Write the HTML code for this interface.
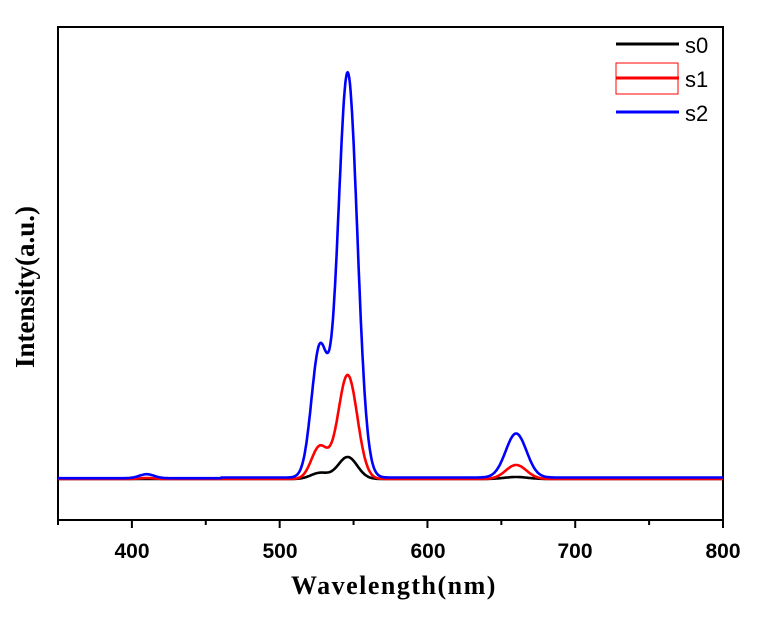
<!DOCTYPE html>
<html><head><meta charset="utf-8"><style>
html,body{margin:0;padding:0;background:#fff;}
svg{display:block;}
text{font-family:"Liberation Serif",serif;font-weight:bold;fill:#000;}
</style></head><body>
<svg id="s" width="763" height="620" xmlns="http://www.w3.org/2000/svg">
<rect x="58" y="27" width="665" height="493" fill="none" stroke="#000" stroke-width="2"/>
<g stroke="#000" stroke-width="2" id="ticks"></g>
<g font-size="21" text-anchor="middle">
<text x="132" y="558" style="font-family:'Liberation Sans',sans-serif">400</text>
<text x="280" y="558" style="font-family:'Liberation Sans',sans-serif">500</text>
<text x="428" y="558" style="font-family:'Liberation Sans',sans-serif">600</text>
<text x="575" y="558" style="font-family:'Liberation Sans',sans-serif">700</text>
<text x="723" y="558" style="font-family:'Liberation Sans',sans-serif">800</text>
</g>
<text x="394" y="594" font-size="26" text-anchor="middle" letter-spacing="1.5">Wavelength(nm)</text>
<text transform="translate(34,287) rotate(-90)" font-size="27" text-anchor="middle">Intensity(a.u.)</text>
<g id="curves" fill="none" stroke-width="2.6" stroke-linejoin="round"></g>
<line x1="616" y1="44" x2="679" y2="44" stroke="#000" stroke-width="3"/>
<rect x="616" y="63" width="62" height="31" fill="none" stroke="#f00" stroke-width="1"/>
<line x1="616" y1="78" x2="679" y2="78" stroke="#f00" stroke-width="3"/>
<line x1="616" y1="112" x2="679" y2="112" stroke="#00f" stroke-width="3"/>
<g font-size="22">
<text x="685" y="53" style="font-family:'Liberation Sans',sans-serif;font-weight:normal">s0</text>
<text x="685" y="87" style="font-family:'Liberation Sans',sans-serif;font-weight:normal">s1</text>
<text x="685" y="121" style="font-family:'Liberation Sans',sans-serif;font-weight:normal">s2</text>
</g>
</svg>
<script>
function X(w){return 58+(w-350)*665/450;}
var t=document.getElementById('ticks'),h='';
for(var w=350;w<=800;w+=50){var big=(w%100==0);h+='<line x1="'+X(w)+'" y1="520" x2="'+X(w)+'" y2="'+(big?528:525)+'"/>';}
t.innerHTML=h;
function g(x,m,s){return Math.exp(-(x-m)*(x-m)/(2*s*s));}
var series=[
 ['#000',function(x){return 479-(22*g(x,546,6.5)+6*g(x,527,6)+2*g(x,660,8));}],
 ['#f00',function(x){return 479-(104*g(x,546,6.5)+32*g(x,527,5.5)+14*g(x,660,7)+1*g(x,410,5));}],
 ['#00f',function(x){return 479-(405*g(x,546,6.5)+128*g(x,527,5.5)+44*g(x,660,7)+4*g(x,410,5)+(x>460?1.5:0.8));}]
];
var c=document.getElementById('curves'),out='';
series.forEach(function(s){var d='';for(var x=350;x<=800;x+=0.5){d+=(x==350?'M':'L')+X(x).toFixed(1)+' '+s[1](x).toFixed(1);}out+='<path d="'+d+'" stroke="'+s[0]+'"/>';});
c.innerHTML=out;
</script>
</body></html>
